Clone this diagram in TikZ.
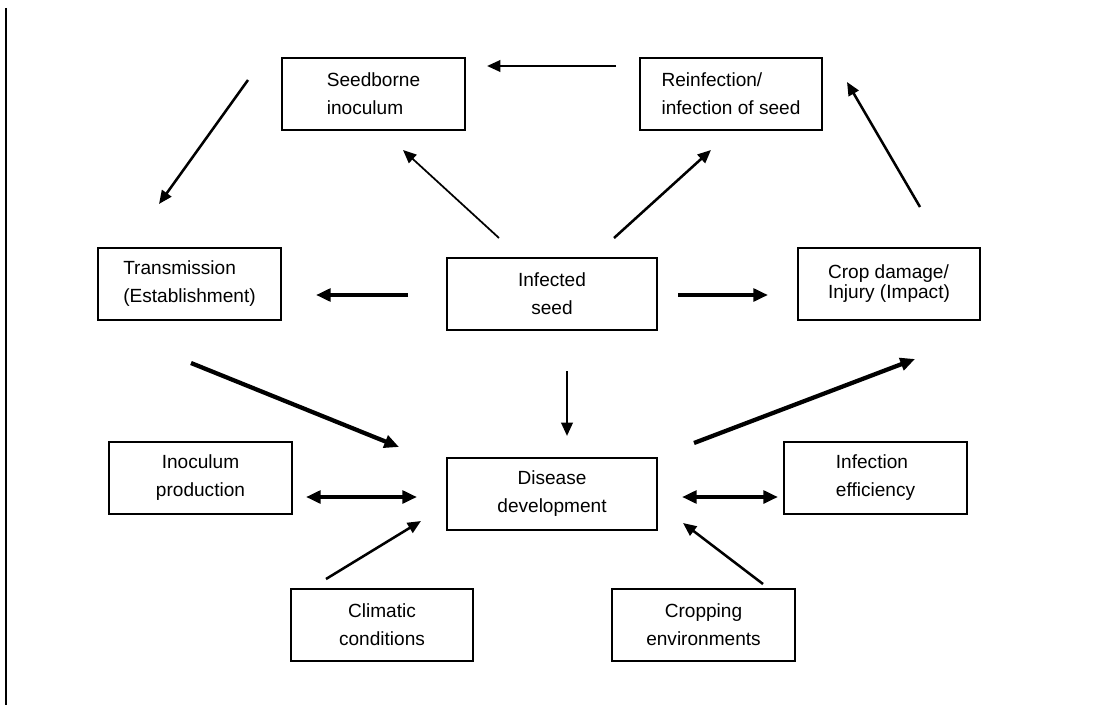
\documentclass[tikz,border=0pt]{standalone}
\usepackage{fontspec}
\setmainfont{Liberation Sans}
\usetikzlibrary{arrows.meta}

\begin{document}
\begin{tikzpicture}[x=0.75pt, y=-0.75pt,
  main/.style = {draw, line width=1.5pt, minimum width=137pt, minimum height=54pt, inner sep=0pt, font=\fontsize{14.3}{21}\selectfont},
  wide/.style = {main, minimum width=157pt},
  arr/.style = {-{Triangle[length=10pt, width=8.5pt]}, line width=1.9pt},
  thinarr/.style = {arr, line width=1.3pt},
  fatarr/.style = {-{Triangle[length=11pt, width=9.5pt]}, line width=3.2pt},
  twoway/.style = {{Triangle[length=11pt, width=9.5pt]}-{Triangle[length=11pt, width=9.5pt]}, line width=3.2pt}]
\useasboundingbox (0,0) rectangle (1095,717);
\draw[line width=0.9pt] (6,8) -- (6,705);

\node[main, align=left] (seedborne) at (373.5,94) {Seedborne\\inoculum};
\node[main, align=left] (reinfection) at (731,94) {Reinfection/\\infection of seed};
\node[main, align=left] (transmission) at (189.5,284) {Transmission\\(Establishment)};
\node[wide, align=center] (infected) at (552,294) {Infected\\seed};
\node[main, align=left] (crop) at (889,284) {Crop damage/\\[-6pt]Injury (Impact)};
\node[main, align=center] (inoculum) at (200.5,478) {Inoculum\\production};
\node[wide, align=center] (disease) at (552,494) {Disease\\development};
\node[main, align=left] (efficiency) at (875.5,478) {Infection\\efficiency};
\node[main, align=center] (climatic) at (382,625) {Climatic\\conditions};
\node[main, align=center] (cropping) at (703.5,625) {Cropping\\environments};

% free arrow ends
\coordinate (r1) at (616,66);   \coordinate (s1) at (487,66);
\coordinate (s2) at (248,80);   \coordinate (t2) at (159,204);
\coordinate (i3) at (499,238);  \coordinate (s3) at (403,150);
\coordinate (i4) at (614,238);  \coordinate (r4) at (711,150);
\coordinate (c5) at (920,207);  \coordinate (r5) at (847,82);
\coordinate (i6) at (408,295);  \coordinate (t6) at (316,295);
\coordinate (i7) at (678,295);  \coordinate (c7) at (768,295);
\coordinate (i8) at (567,371);  \coordinate (d8) at (567,436);
\coordinate (t9) at (191,363);  \coordinate (d9) at (399,447);
\coordinate (d10) at (694,443); \coordinate (c10) at (915,359);
\coordinate (p11) at (306,497); \coordinate (d11) at (417,497);
\coordinate (d12) at (682,497); \coordinate (e12) at (778,497);
\coordinate (k13) at (326,579); \coordinate (d13) at (421,521);
\coordinate (g14) at (763,584); \coordinate (d14) at (683,523);

\draw[arr] (r1) -- (s1);
\draw[arr] (s2) -- (t2);
\draw[thinarr] (i3) -- (s3);
\draw[arr] (i4) -- (r4);
\draw[arr] (c5) -- (r5);
\draw[fatarr] (i6) -- (t6);
\draw[fatarr] (i7) -- (c7);
\draw[arr] (i8) -- (d8);
\draw[fatarr] (t9) -- (d9);
\draw[fatarr] (d10) -- (c10);
\draw[twoway] (p11) -- (d11);
\draw[twoway] (d12) -- (e12);
\draw[arr] (k13) -- (d13);
\draw[arr] (g14) -- (d14);
\end{tikzpicture}
\end{document}
